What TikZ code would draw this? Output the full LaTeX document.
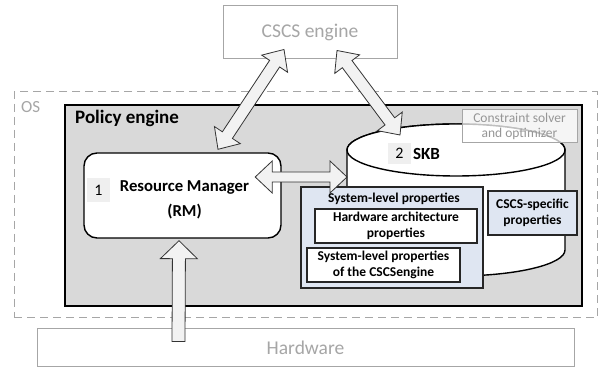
\documentclass[tikz,border=0pt]{standalone}
\usepackage{fontspec}
\setmainfont{Carlito}
\usetikzlibrary{calc}

\definecolor{panelgray}{HTML}{D9D9D9}
\definecolor{softgray}{HTML}{A6A6A6}
\definecolor{softtext}{HTML}{969696}
\definecolor{arrowfill}{HTML}{F2F2F2}
\definecolor{propblue}{HTML}{DFE6F2}
\definecolor{tagfill}{HTML}{EFEFEF}

\newcommand\fsz[2]{\fontsize{#1}{#2}\selectfont}

% block arrow with heads on both ends: start, end, shaft half width, head half width, head length
\newcommand\twoheadblock[5]{%
  \draw[block] let \p1=(#1), \p2=(#2), \n1={atan2(\y2-\y1,\x2-\x1)} in
    (\p1) -- ($(\p1)+(\n1:#5)+(\n1+90:#4)$) -- ($(\p1)+(\n1:#5)+(\n1+90:#3)$)
    -- ($(\p2)+(\n1+180:#5)+(\n1+90:#3)$) -- ($(\p2)+(\n1+180:#5)+(\n1+90:#4)$)
    -- (\p2) -- ($(\p2)+(\n1+180:#5)+(\n1-90:#4)$) -- ($(\p2)+(\n1+180:#5)+(\n1-90:#3)$)
    -- ($(\p1)+(\n1:#5)+(\n1-90:#3)$) -- ($(\p1)+(\n1:#5)+(\n1-90:#4)$) -- cycle;}

% block arrow with a flat tail at the start and a head at the end
\newcommand\oneheadblock[5]{%
  \draw[block] let \p1=(#1), \p2=(#2), \n1={atan2(\y2-\y1,\x2-\x1)} in
    ($(\p1)+(\n1+90:#3)$) -- ($(\p2)+(\n1+180:#5)+(\n1+90:#3)$)
    -- ($(\p2)+(\n1+180:#5)+(\n1+90:#4)$) -- (\p2)
    -- ($(\p2)+(\n1+180:#5)+(\n1-90:#4)$) -- ($(\p2)+(\n1+180:#5)+(\n1-90:#3)$)
    -- ($(\p1)+(\n1-90:#3)$) -- cycle;}

\tikzset{
  outerbox/.style={draw=softgray, line width=1pt, text=softgray, inner sep=0pt,
    font=\fsz{19.5}{23}},
  block/.style={draw=black!80, fill=arrowfill, line width=0.8pt, line join=miter},
  propbox/.style={draw=black!85, line width=1.2pt, align=center, inner sep=0pt,
    font=\bfseries\fsz{13.5}{16}},
  tag/.style={fill=tagfill, inner sep=0pt, minimum width=23pt, font=\fsz{16}{19}},
  cyl/.style={draw=black, fill=white, line width=1.4pt},
}

\begin{document}
\begin{tikzpicture}[x=1pt,y=1pt]
  \useasboundingbox[fill=white] (0,0) rectangle (600,369);

  % external components
  \node[outerbox, minimum width=174pt, minimum height=53pt] (cscs) at (310,336.5) {CSCS engine};
  \node[outerbox, minimum width=537pt, minimum height=38pt] (hw) at (305.5,21) {Hardware};

  % operating system frame
  \node[draw=softgray, line width=1pt, dash pattern=on 8pt off 5pt,
        minimum width=583pt, minimum height=226pt, inner sep=0pt] (os) at (305.5,164) {};
  \node[anchor=west, text=softgray, font=\fsz{17}{20}, inner sep=0pt] (oslabel) at (21,262) {OS};

  % policy engine
  \node[draw=black, fill=panelgray, line width=1.8pt,
        minimum width=517pt, minimum height=201pt, inner sep=0pt] (policy) at (323.5,163.5) {};
  \node[anchor=west, font=\bfseries\fsz{19}{22}, inner sep=0pt] (policylabel) at (75,251) {Policy engine};

  % resource manager
  \node[draw=black, fill=white, line width=1.4pt, rounded corners=13pt,
        minimum width=197pt, minimum height=85pt, inner sep=0pt] (rm) at (182.5,173.5) {};
  \node[align=center, inner sep=0pt, font=\bfseries\fsz{16.7}{25}] (rmlabel)
        at ($(rm.center)+(2,-4)$) {Resource Manager\\(RM)};
  \node[tag, minimum height=24pt] (tag1) at (98.5,179) {1};

  % system knowledge base cylinder
  \coordinate (skbc) at (456,219);
  \draw[cyl] (347,219) -- (347,119)
    arc[start angle=180, end angle=360, x radius=109, y radius=26]
    -- (565,219) arc[start angle=0, end angle=180, x radius=109, y radius=26] -- cycle;
  \draw[cyl] (skbc) ellipse[x radius=109, y radius=26];
  \node[tag, minimum height=21pt] (tag2) at (399.5,215.5) {2};
  \node[font=\bfseries\fsz{17}{20}, inner sep=0pt] (skb) at (426.5,215) {SKB};

  % constraint solver
  \node[draw=softgray, line width=1pt, fill=white, fill opacity=0.75, text opacity=1,
        text=softtext, align=center, font=\fsz{13.5}{15}, inner sep=0pt,
        minimum width=115pt, minimum height=33pt] (solver) at (519.5,242.5)
        {Constraint solver\\and optimizer};

  % properties stored in the knowledge base
  \node[propbox, fill=propblue, minimum width=182pt, minimum height=101pt] (syslevel) at (392,131.5) {};
  \node[font=\bfseries\fsz{13.5}{16}, inner sep=0pt] (syslabel) at (394,170) {System-level properties};
  \node[propbox, fill=white, minimum width=162pt, minimum height=34pt] (hwarch) at (396,143)
        {Hardware architecture\\properties};
  \node[propbox, fill=white, minimum width=153pt, minimum height=34pt] (slpcscs) at (383.5,104)
        {System-level properties\\of the CSCSengine};
  \node[propbox, fill=propblue, minimum width=89pt, minimum height=44pt] (cscsspec) at (532.5,156)
        {CSCS-specific\\properties};

  % arrow end points
  \coordinate (a1top) at ($(cscs.south)+(-26,10)$);
  \coordinate (a1bot) at ($(rm.north)+(35.5,3)$);
  \coordinate (a2top) at ($(cscs.south)+(27,9)$);
  \coordinate (a2bot) at ($(skbc)+(-56,15)$);
  \coordinate (a3left) at ($(rm.east)+(-26.5,18.5)$);
  \coordinate (a3right) at ($(skbc)+(-109,-27)$);
  \coordinate (a4tail) at ($(hw.north west)+(142,-13)$);
  \coordinate (a4tip) at ($(rm.south)+(-3.5,-2)$);

  % data flows
  \twoheadblock{a1top}{a1bot}{6}{15.5}{17}
  \twoheadblock{a2top}{a2bot}{6}{15.5}{17}
  \twoheadblock{a3left}{a3right}{5}{16}{17}
  \oneheadblock{a4tail}{a4tip}{6.5}{18.5}{18}
\end{tikzpicture}
\end{document}
